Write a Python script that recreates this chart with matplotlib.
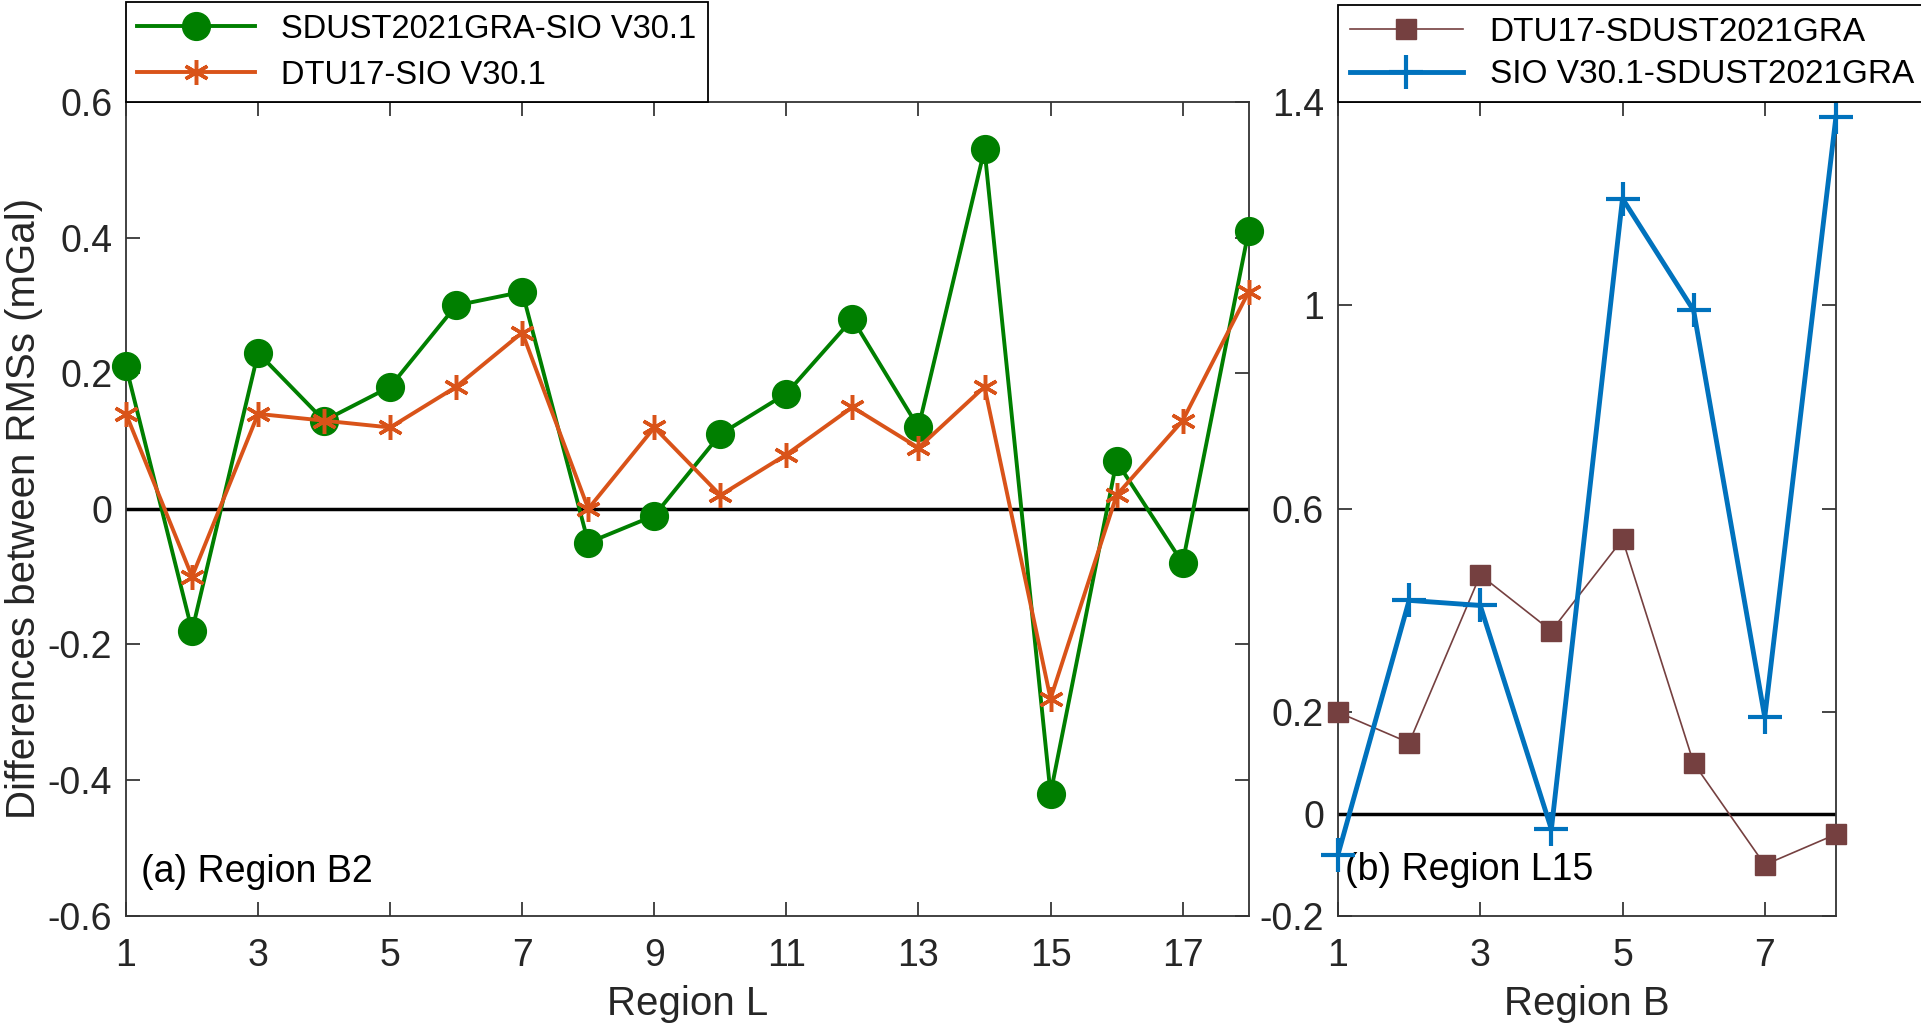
import matplotlib.pyplot as plt
from matplotlib import font_manager

names = {f.name for f in font_manager.fontManager.ttflist}
narrow = "Liberation Sans Narrow" if "Liberation Sans Narrow" in names else "Liberation Sans"
plt.rcParams["font.family"] = ["Liberation Sans", "DejaVu Sans"]

# panel (a): region B2, across region L
region_l = list(range(1, 19))
sdust_sio = [0.21, -0.18, 0.23, 0.13, 0.18, 0.30, 0.32, -0.05, -0.01,
             0.11, 0.17, 0.28, 0.12, 0.53, -0.42, 0.07, -0.08, 0.41]
dtu_sio = [0.14, -0.10, 0.14, 0.13, 0.12, 0.18, 0.26, 0.00, 0.12,
           0.02, 0.08, 0.15, 0.09, 0.18, -0.28, 0.02, 0.13, 0.32]

# panel (b): region L15, across region B
region_b = list(range(1, 9))
dtu_sdust = [0.20, 0.14, 0.47, 0.36, 0.54, 0.10, -0.10, -0.04]
sio_sdust = [-0.08, 0.42, 0.41, -0.03, 1.21, 0.99, 0.19, 1.37]

fig = plt.figure(figsize=(19.21, 10.30), dpi=100)
ax1 = fig.add_axes([0.0656, 0.111, 0.5844, 0.790])
ax2 = fig.add_axes([0.6965, 0.111, 0.2592, 0.790])

green = "#007F00"
orange = "#D95319"
brown = "#754040"
blue = "#0072BD"
asterisk = (6, 2, 0)


def style(ax, fam):
    ax.tick_params(direction="in", top=True, right=True, length=10,
                   width=1.2, labelsize=27, colors="#262626", pad=10)
    ax.tick_params(axis="x", pad=16)
    for lab in ax.get_xticklabels() + ax.get_yticklabels():
        lab.set_family(fam)
    for s in ax.spines.values():
        s.set_color("#333333")
        s.set_linewidth(1.3)


ax1.plot(region_l, sdust_sio, color=green, lw=2.8, marker="o", ms=20,
         label="SDUST2021GRA-SIO V30.1", zorder=3, clip_on=False)
ax1.plot(region_l, dtu_sio, color=orange, lw=2.8, marker=asterisk, ms=18,
         mew=2.5, label="DTU17-SIO V30.1", zorder=4, clip_on=False)
ax1.axhline(0, color="black", lw=2.5, zorder=2)
ax1.set_xlim(1, 18)
ax1.set_ylim(-0.6, 0.6)
ax1.set_xticks(range(1, 19, 2))
ax1.set_yticks([-0.6, -0.4, -0.2, 0, 0.2, 0.4, 0.6])
ax1.set_yticklabels(["-0.6", "-0.4", "-0.2", "0", "0.2", "0.4", "0.6"])
style(ax1, narrow)
ax1.set_xlabel("Region L", fontsize=29, color="#262626", family=narrow, labelpad=8)
ax1.set_ylabel("Differences between RMSs (mGal)", fontsize=29, color="#262626",
               family=narrow, labelpad=3)
ax1.text(0.013, 0.054, "(a) Region B2", transform=ax1.transAxes, fontsize=27,
         family=narrow, va="center", ha="left")
leg1 = ax1.legend(loc="lower left", bbox_to_anchor=(0, 1), borderaxespad=0,
                  handlelength=3.6, fancybox=False,
                  edgecolor="black", framealpha=1, borderpad=0.35,
                  labelspacing=0.45, prop={"family": narrow, "size": 23.5})
leg1.get_frame().set_linewidth(1.3)

ax2.plot(region_b, dtu_sdust, color=brown, lw=1.2, marker="s", ms=15,
         label="DTU17-SDUST2021GRA", zorder=3, clip_on=False)
ax2.plot(region_b, sio_sdust, color=blue, lw=3.5, marker="+", ms=24,
         mew=3, label="SIO V30.1-SDUST2021GRA", zorder=4, clip_on=False)
ax2.axhline(0, color="black", lw=2.5, zorder=2)
ax2.set_xlim(1, 8)
ax2.set_ylim(-0.2, 1.4)
ax2.set_xticks([1, 3, 5, 7])
ax2.set_yticks([-0.2, 0, 0.2, 0.6, 1.0, 1.4])
ax2.set_yticklabels(["-0.2", "0", "0.2", "0.6", "1", "1.4"])
style(ax2, "Liberation Sans")
ax2.set_xlabel("Region B", fontsize=29, color="#262626", labelpad=8)
ax2.text(0.015, 0.056, "(b) Region L15", transform=ax2.transAxes, fontsize=27,
         va="center", ha="left")
leg2 = ax2.legend(loc="lower left", bbox_to_anchor=(0, 1), borderaxespad=0,
                  fontsize=24, handlelength=3.4, fancybox=False,
                  edgecolor="black", framealpha=1, borderpad=0.35,
                  labelspacing=0.35)
leg2.get_frame().set_linewidth(1.3)

fig.savefig("out.png", dpi=100)
